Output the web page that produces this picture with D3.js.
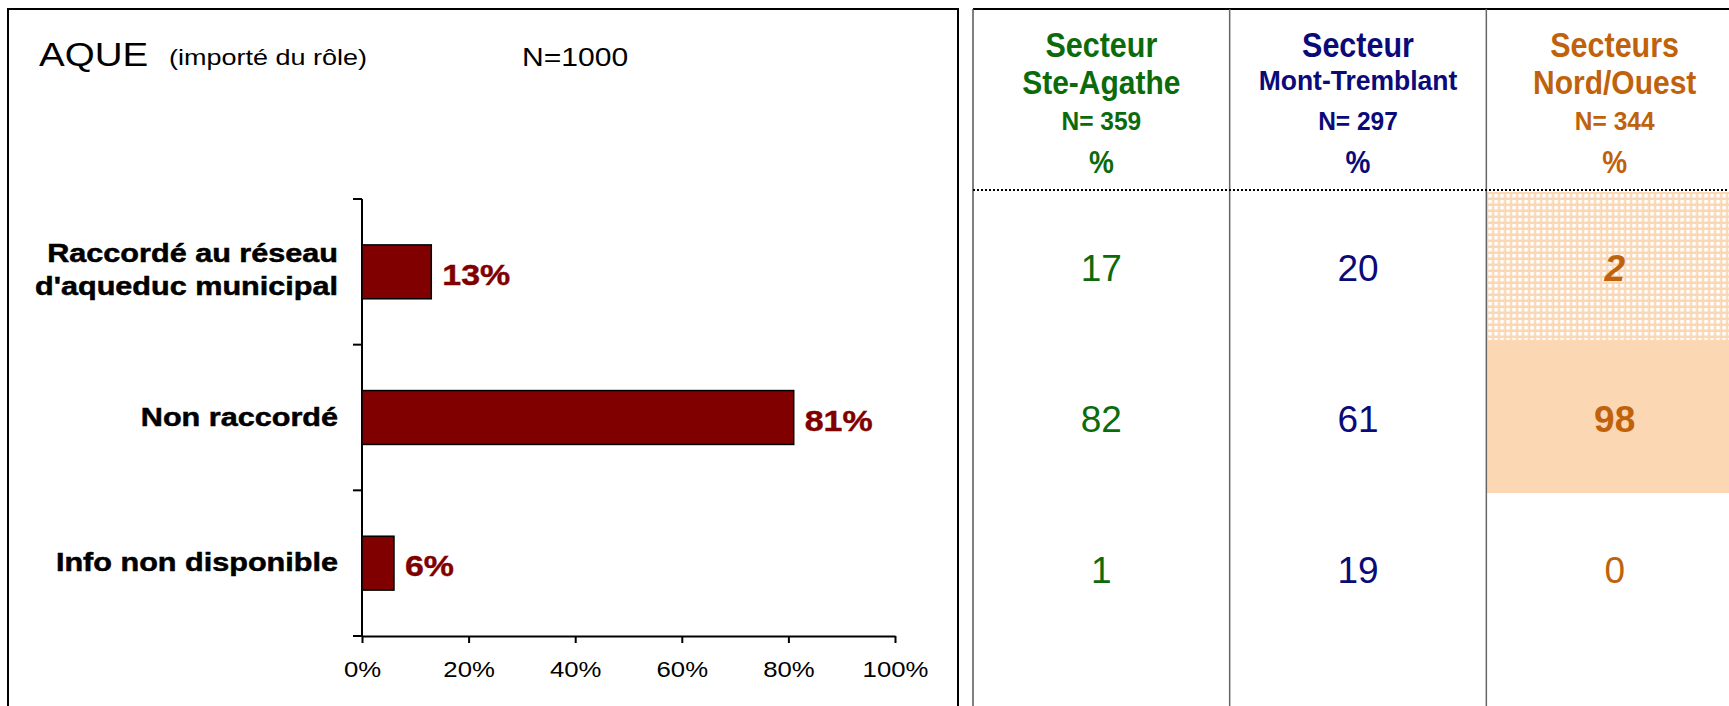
<!DOCTYPE html>
<html>
<head>
<meta charset="utf-8">
<script src="https://cdn.jsdelivr.net/npm/d3@7"></script>
<style>
  html, body { margin: 0; padding: 0; background: #fff; }
  svg { display: block; font-family: "Liberation Sans", Arial, sans-serif; }
</style>
</head>
<body>
<svg id="chart" width="1729" height="706"></svg>
<script>
// --- data ---
const categories = ["Raccordé au réseau|d'aqueduc municipal", "Non raccordé", "Info non disponible"];
const totals = [13, 81, 6];
const xTicks = [0, 20, 40, 60, 80, 100];

const sectors = ["Ste-Agathe", "Mont-Tremblant", "Nord/Ouest"];
const sectorLine1 = ["Secteur", "Secteur", "Secteurs"];
const sectorN = [359, 297, 344];
const steAgathe = [17, 82, 1];
const montTremblant = [20, 61, 19];
const nordOuest = [2, 98, 0];

const sectorColors = ["#0b6b0b", "#0a0a78", "#c0620c"];
const peach = "#fcd7b3";

const svg = d3.select('#chart');

// helper: text anchored at x,y with a stretch
function label(g, x, y, txt, opts) {
  var t = g.append('text')
    .attr('transform', 'translate(' + x + ',' + y + ') scale(' + (opts.sx || 1) + ',' + (opts.sy || 1) + ')')
    .attr('text-anchor', opts.anchor || 'start')
    .attr('font-size', opts.size)
    .attr('font-weight', opts.weight || 'normal')
    .attr('font-style', opts.style || 'normal')
    .attr('fill', opts.color || '#000')
    .text(txt);
  if (opts.heavy) {
    t.attr('stroke', opts.color || '#000').attr('stroke-width', opts.heavy);
  }
  return t;
}

// ================= left panel =================
const left = svg.append('g');
left.append('rect')
  .attr('x', 8).attr('y', 9).attr('width', 950).attr('height', 720)
  .attr('fill', 'none').attr('stroke', '#000').attr('stroke-width', 2);

label(left, 39, 66, 'AQUE', { size: 33.5, sx: 1.15 });
label(left, 169, 65, '(importé du rôle)', { size: 22.5, sx: 1.2 });
label(left, 522, 66, 'N=1000', { size: 25.5, sx: 1.18 });

const x = d3.scaleLinear().domain([0, 100]).range([362, 895]);
const y = d3.scaleBand().domain(categories).range([199, 636])
  .paddingInner(0.63).paddingOuter(0.315);

// y axis line + boundary ticks
const step = y.step();
left.append('line')
  .attr('x1', x(0)).attr('x2', x(0)).attr('y1', 199).attr('y2', 636)
  .attr('stroke', '#000').attr('stroke-width', 2);
const bounds = d3.range(categories.length + 1).map(i => 199 + i * step);
left.selectAll('.ytick').data(bounds).enter().append('line')
  .attr('x1', x(0) - 9).attr('x2', x(0))
  .attr('y1', d => d).attr('y2', d => d)
  .attr('stroke', '#000').attr('stroke-width', 2);

// x axis
const xAxis = d3.axisBottom(x).tickValues(xTicks).tickSize(7).tickSizeOuter(0)
  .tickFormat(d => d + '%');
const gx = left.append('g').attr('transform', 'translate(0,636)').call(xAxis);
gx.select('.domain').attr('stroke-width', 2);
gx.selectAll('.tick line').attr('stroke-width', 2);
gx.selectAll('.tick text')
  .attr('font-size', 23).attr('font-family', '"Liberation Sans", Arial, sans-serif')
  .attr('fill', '#000').attr('dy', 0).attr('y', 41)
  .attr('transform', 'scale(1.12,1)');

// bars
left.selectAll('.bar').data(categories).enter().append('rect')
  .attr('x', x(0)).attr('y', d => y(d))
  .attr('width', (d, i) => x(totals[i]) - x(0))
  .attr('height', y.bandwidth())
  .attr('fill', '#800000').attr('stroke', '#000').attr('stroke-width', 1.5);

categories.forEach(function(c, i) {
  const cy = y(c) + y.bandwidth() / 2;
  const lines = c.split('|');
  const o = { size: 25.5, weight: 'bold', anchor: 'end', sx: 1.2, heavy: 0.5 };
  if (lines.length === 2) {
    label(left, 338, cy - 9.5, lines[0], o);
    label(left, 338, cy + 23.5, lines[1], o);
  } else {
    label(left, 338, cy + 8, lines[0], o);
  }
  label(left, x(totals[i]) + 11, cy + 13, totals[i] + '%',
    { size: 29, weight: 'bold', color: '#800000', sx: 1.17, heavy: 0.4 });
});

// ================= right panel =================
const right = svg.append('g');
const cx = d3.scaleBand().domain(sectors).range([973, 1743]);
const ry = d3.scaleBand().domain(categories).range([192, 646]);

// highlight backgrounds for Nord/Ouest
const defs = svg.append('defs');
const pat = defs.append('pattern').attr('id', 'grid')
  .attr('patternUnits', 'userSpaceOnUse').attr('width', 6).attr('height', 6)
  .attr('x', cx('Nord/Ouest')).attr('y', 192);
pat.append('rect').attr('width', 6).attr('height', 6).attr('fill', peach);
pat.append('rect').attr('x', 2).attr('y', 2).attr('width', 3.5).attr('height', 3.5).attr('fill', '#fff');

right.append('rect')
  .attr('x', cx('Nord/Ouest')).attr('y', 192)
  .attr('width', cx.bandwidth()).attr('height', 148)
  .attr('fill', 'url(#grid)');
right.append('rect')
  .attr('x', cx('Nord/Ouest')).attr('y', 340)
  .attr('width', cx.bandwidth()).attr('height', 153)
  .attr('fill', peach);

// frame
right.append('line').attr('x1', 973).attr('x2', 1729).attr('y1', 9).attr('y2', 9)
  .attr('stroke', '#000').attr('stroke-width', 2);
right.append('line').attr('x1', 973).attr('x2', 973).attr('y1', 9).attr('y2', 706)
  .attr('stroke', '#555').attr('stroke-width', 1.5);
right.selectAll('.div').data(sectors.slice(1)).enter().append('line')
  .attr('x1', d => cx(d)).attr('x2', d => cx(d)).attr('y1', 9).attr('y2', 706)
  .attr('stroke', '#666').attr('stroke-width', 1.5);
right.append('line').attr('x1', 973).attr('x2', 1729).attr('y1', 190).attr('y2', 190)
  .attr('stroke', '#000').attr('stroke-width', 2).attr('stroke-dasharray', '2,2');

// headers
sectors.forEach(function(s, i) {
  const mx = cx(s) + cx.bandwidth() / 2;
  const col = sectorColors[i];
  label(right, mx, 57, sectorLine1[i], { size: 30.5, weight: 'bold', anchor: 'middle', color: col, sy: 1.12 });
  if (s === 'Mont-Tremblant') {
    label(right, mx, 90, s, { size: 26.5, weight: 'bold', anchor: 'middle', color: col, sy: 1.05 });
  } else {
    label(right, mx, 94, s, { size: 30, weight: 'bold', anchor: 'middle', color: col, sy: 1.12 });
  }
  label(right, mx, 130, 'N= ' + sectorN[i], { size: 24.5, weight: 'bold', anchor: 'middle', color: col, sy: 1.05 });
  label(right, mx, 173, '%', { size: 28, weight: 'bold', anchor: 'middle', color: col, sy: 1.1 });
});

// values
const sectorValues = [steAgathe, montTremblant, nordOuest];
sectorValues.forEach(function(vals, i) {
  const mx = cx(sectors[i]) + cx.bandwidth() / 2;
  vals.forEach(function(v, j) {
    const cyy = ry(categories[j]) + ry.bandwidth() / 2;
    const hi = (i === 2 && j < 2);
    label(right, mx, cyy + 13, v, {
      size: 37, anchor: 'middle', color: sectorColors[i],
      weight: hi ? 'bold' : 'normal',
      style: (i === 2 && j === 0) ? 'italic' : 'normal'
    });
  });
});
</script>
</body>
</html>
